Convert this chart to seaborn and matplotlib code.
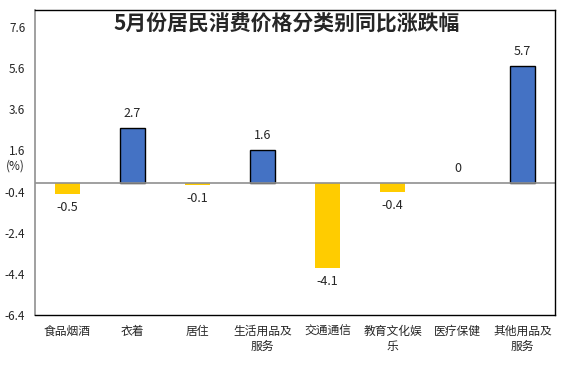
import pandas as pd
import seaborn as sns
import matplotlib.pyplot as plt

categories = ['食品烟酒', '衣着', '居住', '生活用品及\n服务', '交通通信', '教育文化娱\n乐', '医疗保健', '其他用品及\n服务']
values = [-0.5, 2.7, -0.1, 1.6, -4.1, -0.4, 0.0, 5.7]
yticks = [7.6, 5.6, 3.6, 1.6, -0.4, -2.4, -4.4, -6.4]

df = pd.DataFrame({'cat': categories, 'val': values})
colors = ['#4472C4' if v > 0 else '#FFCC00' for v in values]

sns.set_style('white')
plt.rcParams['font.family'] = ['Noto Sans CJK SC', 'DejaVu Sans']

fig = plt.figure(figsize=(5.74, 3.74), dpi=100)
ax = fig.add_axes([35 / 574, 1 - 315 / 374, 520 / 574, 305 / 374])

sns.barplot(x='cat', y='val', hue='cat', data=df, palette=colors, legend=False,
            width=0.39, ax=ax, saturation=1)

# blue bars get a black outline, yellow ones don't
for p, v in zip(ax.patches, values):
    if v > 0:
        p.set_edgecolor('black')
        p.set_linewidth(1.0)
    else:
        p.set_linewidth(0)

ax.set_ylim(-6.4, 8.43)
ax.set_xlim(-0.5, 7.5)
ax.set_yticks(yticks)
ax.set_yticklabels([str(t) for t in yticks], fontsize=8.5)
ax.tick_params(axis='x', labelsize=8.5, length=0, pad=7)
ax.tick_params(axis='y', length=0, pad=7)
ax.set_xlabel('')
ax.set_ylabel('')

ax.axhline(0, color='#909090', lw=1.2, zorder=1)
for side in ['top', 'right', 'bottom']:
    ax.spines[side].set_color('black')
    ax.spines[side].set_linewidth(1.0)
ax.spines['left'].set_color('#909090')
ax.spines['left'].set_linewidth(1.2)

for i, v in enumerate(values):
    if v >= 0:
        ax.annotate(str(v if v != 0 else 0), (i, v), xytext=(0, 6), textcoords='offset points',
                    ha='center', va='bottom', fontsize=9)
    else:
        ax.annotate(str(v), (i, v), xytext=(0, -5), textcoords='offset points',
                    ha='center', va='top', fontsize=9)

fig.text(15 / 574, 1 - 166 / 374, '(%)', ha='center', va='center', fontsize=8.5)
fig.text(287 / 574, 1 - 24 / 374, '5月份居民消费价格分类别同比涨跌幅', ha='center', va='center',
         fontsize=15, fontweight='bold')

fig.savefig('out.png', dpi=100)
